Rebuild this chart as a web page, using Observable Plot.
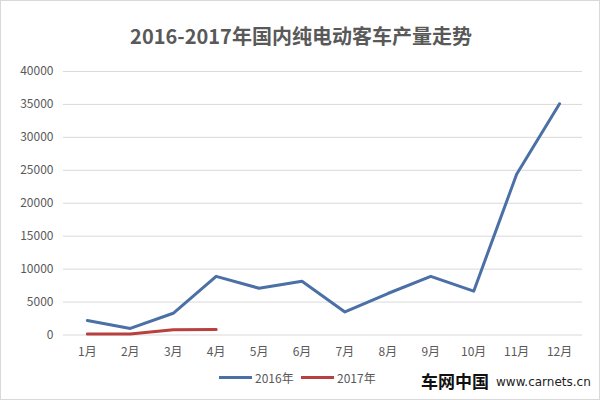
<!DOCTYPE html>
<html><head><meta charset="utf-8">
<script src="https://cdn.jsdelivr.net/npm/d3@7"></script>
<script src="https://cdn.jsdelivr.net/npm/@observablehq/plot@0.6"></script>
<style>
html,body{margin:0;padding:0;background:#fff;}
#wrap{position:relative;width:598px;height:398px;border:1px solid #d9d9d9;overflow:hidden;font-family:"Noto Sans CJK SC","Noto Sans",sans-serif;}
#title{position:absolute;left:0;top:20px;width:600px;text-align:center;font-size:20px;font-weight:bold;color:#595959;}
#chart{position:absolute;left:-1px;top:54px;}
#legend{position:absolute;top:368px;left:0;width:600px;font-size:12px;color:#595959;}
.li{position:absolute;display:flex;align-items:center;}
.sw{display:inline-block;width:33px;height:3px;margin-right:3px;}
#wm1{position:absolute;left:420px;top:371px;font-size:17px;line-height:17px;font-weight:bold;color:#111;}
#wm2{position:absolute;left:495px;top:375px;font-size:12px;line-height:12px;color:#222;font-family:"DejaVu Sans",sans-serif;}
</style></head>
<body><div id="wrap">
<div id="title">2016-2017年国内纯电动客车产量走势</div>
<div id="chart"></div>
<div id="legend"></div>
<div id="wm1">车网中国</div>
<div id="wm2">www.carnets.cn</div>
</div>
<script>
const months = ["1月","2月","3月","4月","5月","6月","7月","8月","9月","10月","11月","12月"];
const series2016 = [2200, 1000, 3300, 8900, 7100, 8150, 3500, 6300, 8900, 6650, 24400, 35100];
const series2017 = [150, 150, 800, 850];
const seriesNames = ["2016年", "2017年"];
const colors = ["#4a70a6", "#b8403e"];
const yTicks = [0,5000,10000,15000,20000,25000,30000,35000,40000];

const data = [];
series2016.forEach((v,i)=>data.push({m:months[i], v, s:seriesNames[0]}));
series2017.forEach((v,i)=>data.push({m:months[i], v, s:seriesNames[1]}));

const chart = Plot.plot({
  width: 600, height: 310,
  marginTop: 16, marginLeft: 63, marginRight: 17, marginBottom: 30,
  style: {fontFamily: '"Noto Sans CJK SC","Noto Sans",sans-serif', fontSize: "12px", color: "#595959", background: "transparent"},
  x: {type: "point", domain: months, padding: 0.5, label: null},
  y: {domain: [0, 40000], ticks: yTicks, label: null},
  color: {domain: seriesNames, range: colors},
  marks: [
    Plot.gridY(yTicks, {stroke: "#d9d9d9", strokeOpacity: 1, strokeWidth: 1}),
    Plot.axisY({ticks: yTicks, tickSize: 0, tickPadding: 10, tickFormat: d => String(d), fill: "#595959", label: null}),
    Plot.axisX({tickSize: 0, tickPadding: 12, fill: "#595959", label: null}),
    Plot.line(data, {x: "m", y: "v", z: "s", stroke: "s", strokeWidth: 3, curve: "linear"})
  ]
});
document.getElementById("chart").appendChild(chart);

const leg = document.getElementById("legend");
const pos = [218, 300];
seriesNames.forEach((n,i)=>{
  const d = document.createElement("div");
  d.className = "li"; d.style.left = pos[i] + "px";
  d.innerHTML = `<span class="sw" style="background:${colors[i]}"></span><span>${n}</span>`;
  leg.appendChild(d);
});
</script>
</body></html>
